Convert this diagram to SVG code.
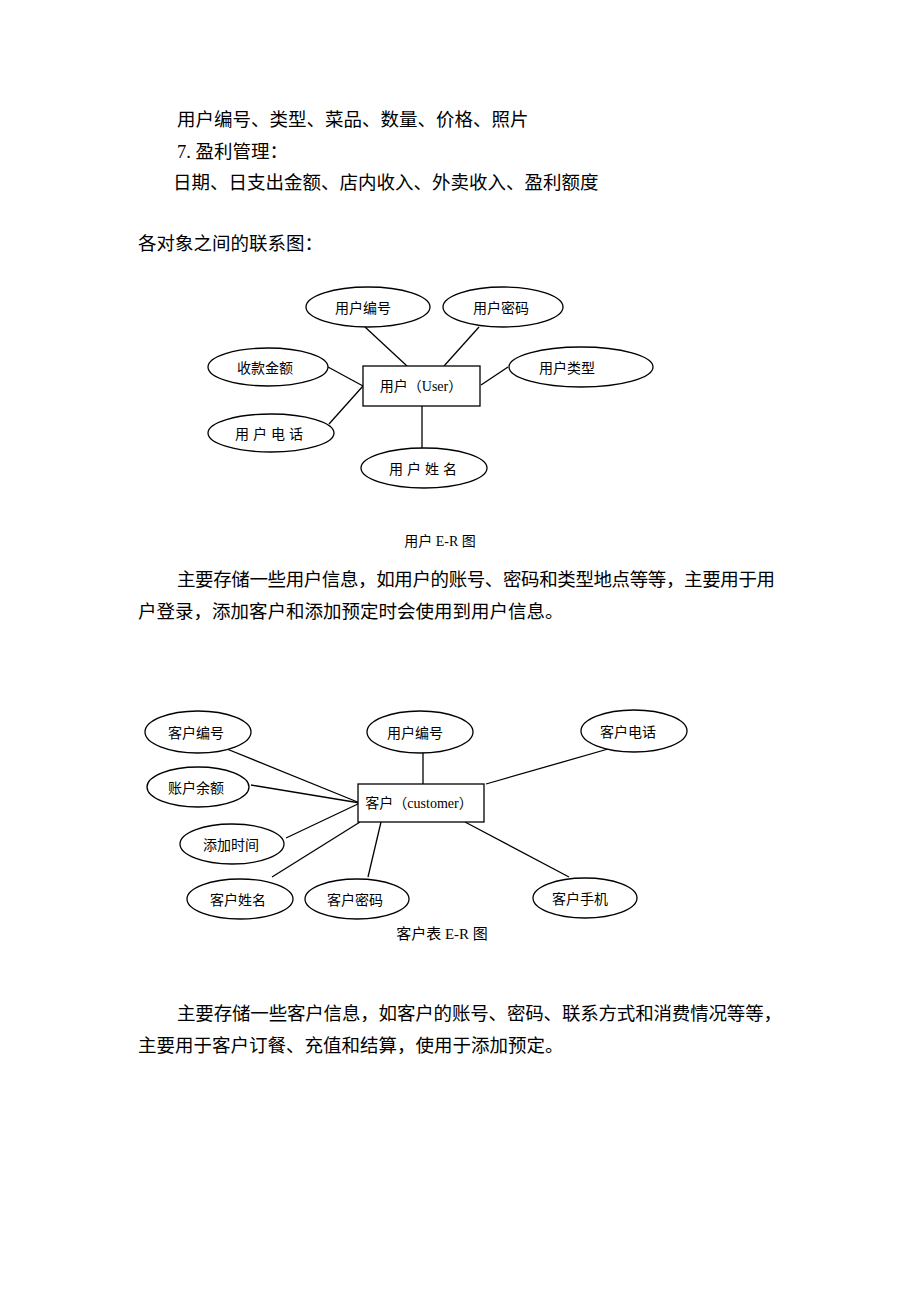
<svg xmlns="http://www.w3.org/2000/svg" width="920" height="1302" viewBox="0 0 920 1302">
<style>
text{font-family:"Liberation Serif","Noto Sans CJK SC",serif;fill:#000}
.p{font-size:18.5px}
.n{font-size:14px;text-anchor:middle;dominant-baseline:central}
.c{font-size:14px;text-anchor:middle}
ellipse,rect{fill:#fff;stroke:#000;stroke-width:1.3}
line{stroke:#000;stroke-width:1.3}
</style>
<rect x="0" y="0" width="920" height="1302" style="stroke:none"/>
<text class="p" x="177" y="126">用户编号、类型、菜品、数量、价格、照片</text>
<text class="p" x="177" y="158">7. 盈利管理：</text>
<text class="p" x="173" y="189">日期、日支出金额、店内收入、外卖收入、盈利额度</text>
<text class="p" x="138" y="250">各对象之间的联系图：</text>

<g id="conn1">
<line x1="365" y1="327" x2="407" y2="366"/>
<line x1="479" y1="327" x2="444" y2="366"/>
<line x1="328" y1="367" x2="363" y2="386"/>
<line x1="508" y1="367" x2="481" y2="385"/>
<line x1="329" y1="424" x2="363" y2="386"/>
<line x1="422" y1="406" x2="422" y2="448"/>
</g>
<g id="user"><rect x="363" y="366" width="117" height="40"/><text class="n" x="421" y="386">用户（User）</text></g>
<g id="u1"><ellipse cx="368" cy="307" rx="62" ry="20"/><text class="n" x="363" y="308">用户编号</text></g>
<g id="u2"><ellipse cx="503" cy="307" rx="60" ry="20"/><text class="n" x="501" y="308">用户密码</text></g>
<g id="u3"><ellipse cx="268" cy="367" rx="60" ry="19"/><text class="n" x="265" y="368">收款金额</text></g>
<g id="u4"><ellipse cx="581" cy="367" rx="72" ry="20"/><text class="n" x="567" y="368">用户类型</text></g>
<g id="u5"><ellipse cx="271" cy="433" rx="63" ry="19"/><text class="n" x="271" y="434" letter-spacing="4">用户电话</text></g>
<g id="u6"><ellipse cx="424" cy="468" rx="63" ry="20"/><text class="n" x="425" y="469" letter-spacing="4">用户姓名</text></g>
<text class="c" x="440" y="546">用户 E-R 图</text>

<text class="p" x="177" y="586" textLength="598">主要存储一些用户信息，如用户的账号、密码和类型地点等等，主要用于用</text>
<text class="p" x="138" y="618">户登录，添加客户和添加预定时会使用到用户信息。</text>

<g id="conn2">
<line x1="222" y1="747" x2="360" y2="803"/>
<line x1="251" y1="785" x2="360" y2="803"/>
<line x1="286" y1="838" x2="360" y2="803"/>
<line x1="272" y1="877" x2="360" y2="822"/>
<line x1="368" y1="877" x2="381" y2="822"/>
<line x1="423" y1="747" x2="423" y2="784"/>
<line x1="615" y1="747" x2="486" y2="784"/>
<line x1="569" y1="877" x2="465" y2="822"/>
</g>
<g id="cust"><rect x="358" y="784" width="126" height="38"/><text class="n" x="419" y="803">客户（customer）</text></g>
<g id="c1"><ellipse cx="198" cy="732" rx="53" ry="21"/><text class="n" x="196" y="733">客户编号</text></g>
<g id="c2"><ellipse cx="420" cy="732" rx="53" ry="21"/><text class="n" x="415" y="733">用户编号</text></g>
<g id="c3"><ellipse cx="634" cy="731" rx="53" ry="21"/><text class="n" x="628" y="732">客户电话</text></g>
<g id="c4"><ellipse cx="198" cy="787" rx="51" ry="20"/><text class="n" x="196" y="788">账户余额</text></g>
<g id="c5"><ellipse cx="232" cy="844" rx="52" ry="20"/><text class="n" x="231" y="845">添加时间</text></g>
<g id="c6"><ellipse cx="240" cy="899" rx="53" ry="20"/><text class="n" x="238" y="900">客户姓名</text></g>
<g id="c7"><ellipse cx="357" cy="899" rx="52" ry="20"/><text class="n" x="355" y="900">客户密码</text></g>
<g id="c8"><ellipse cx="585" cy="898" rx="52" ry="20"/><text class="n" x="580" y="899">客户手机</text></g>
<text class="c" x="442" y="939" style="font-size:15px">客户表 E-R 图</text>

<text class="p" x="177" y="1020" textLength="605">主要存储一些客户信息，如客户的账号、密码、联系方式和消费情况等等，</text>
<text class="p" x="138" y="1052">主要用于客户订餐、充值和结算，使用于添加预定。</text>
</svg>
